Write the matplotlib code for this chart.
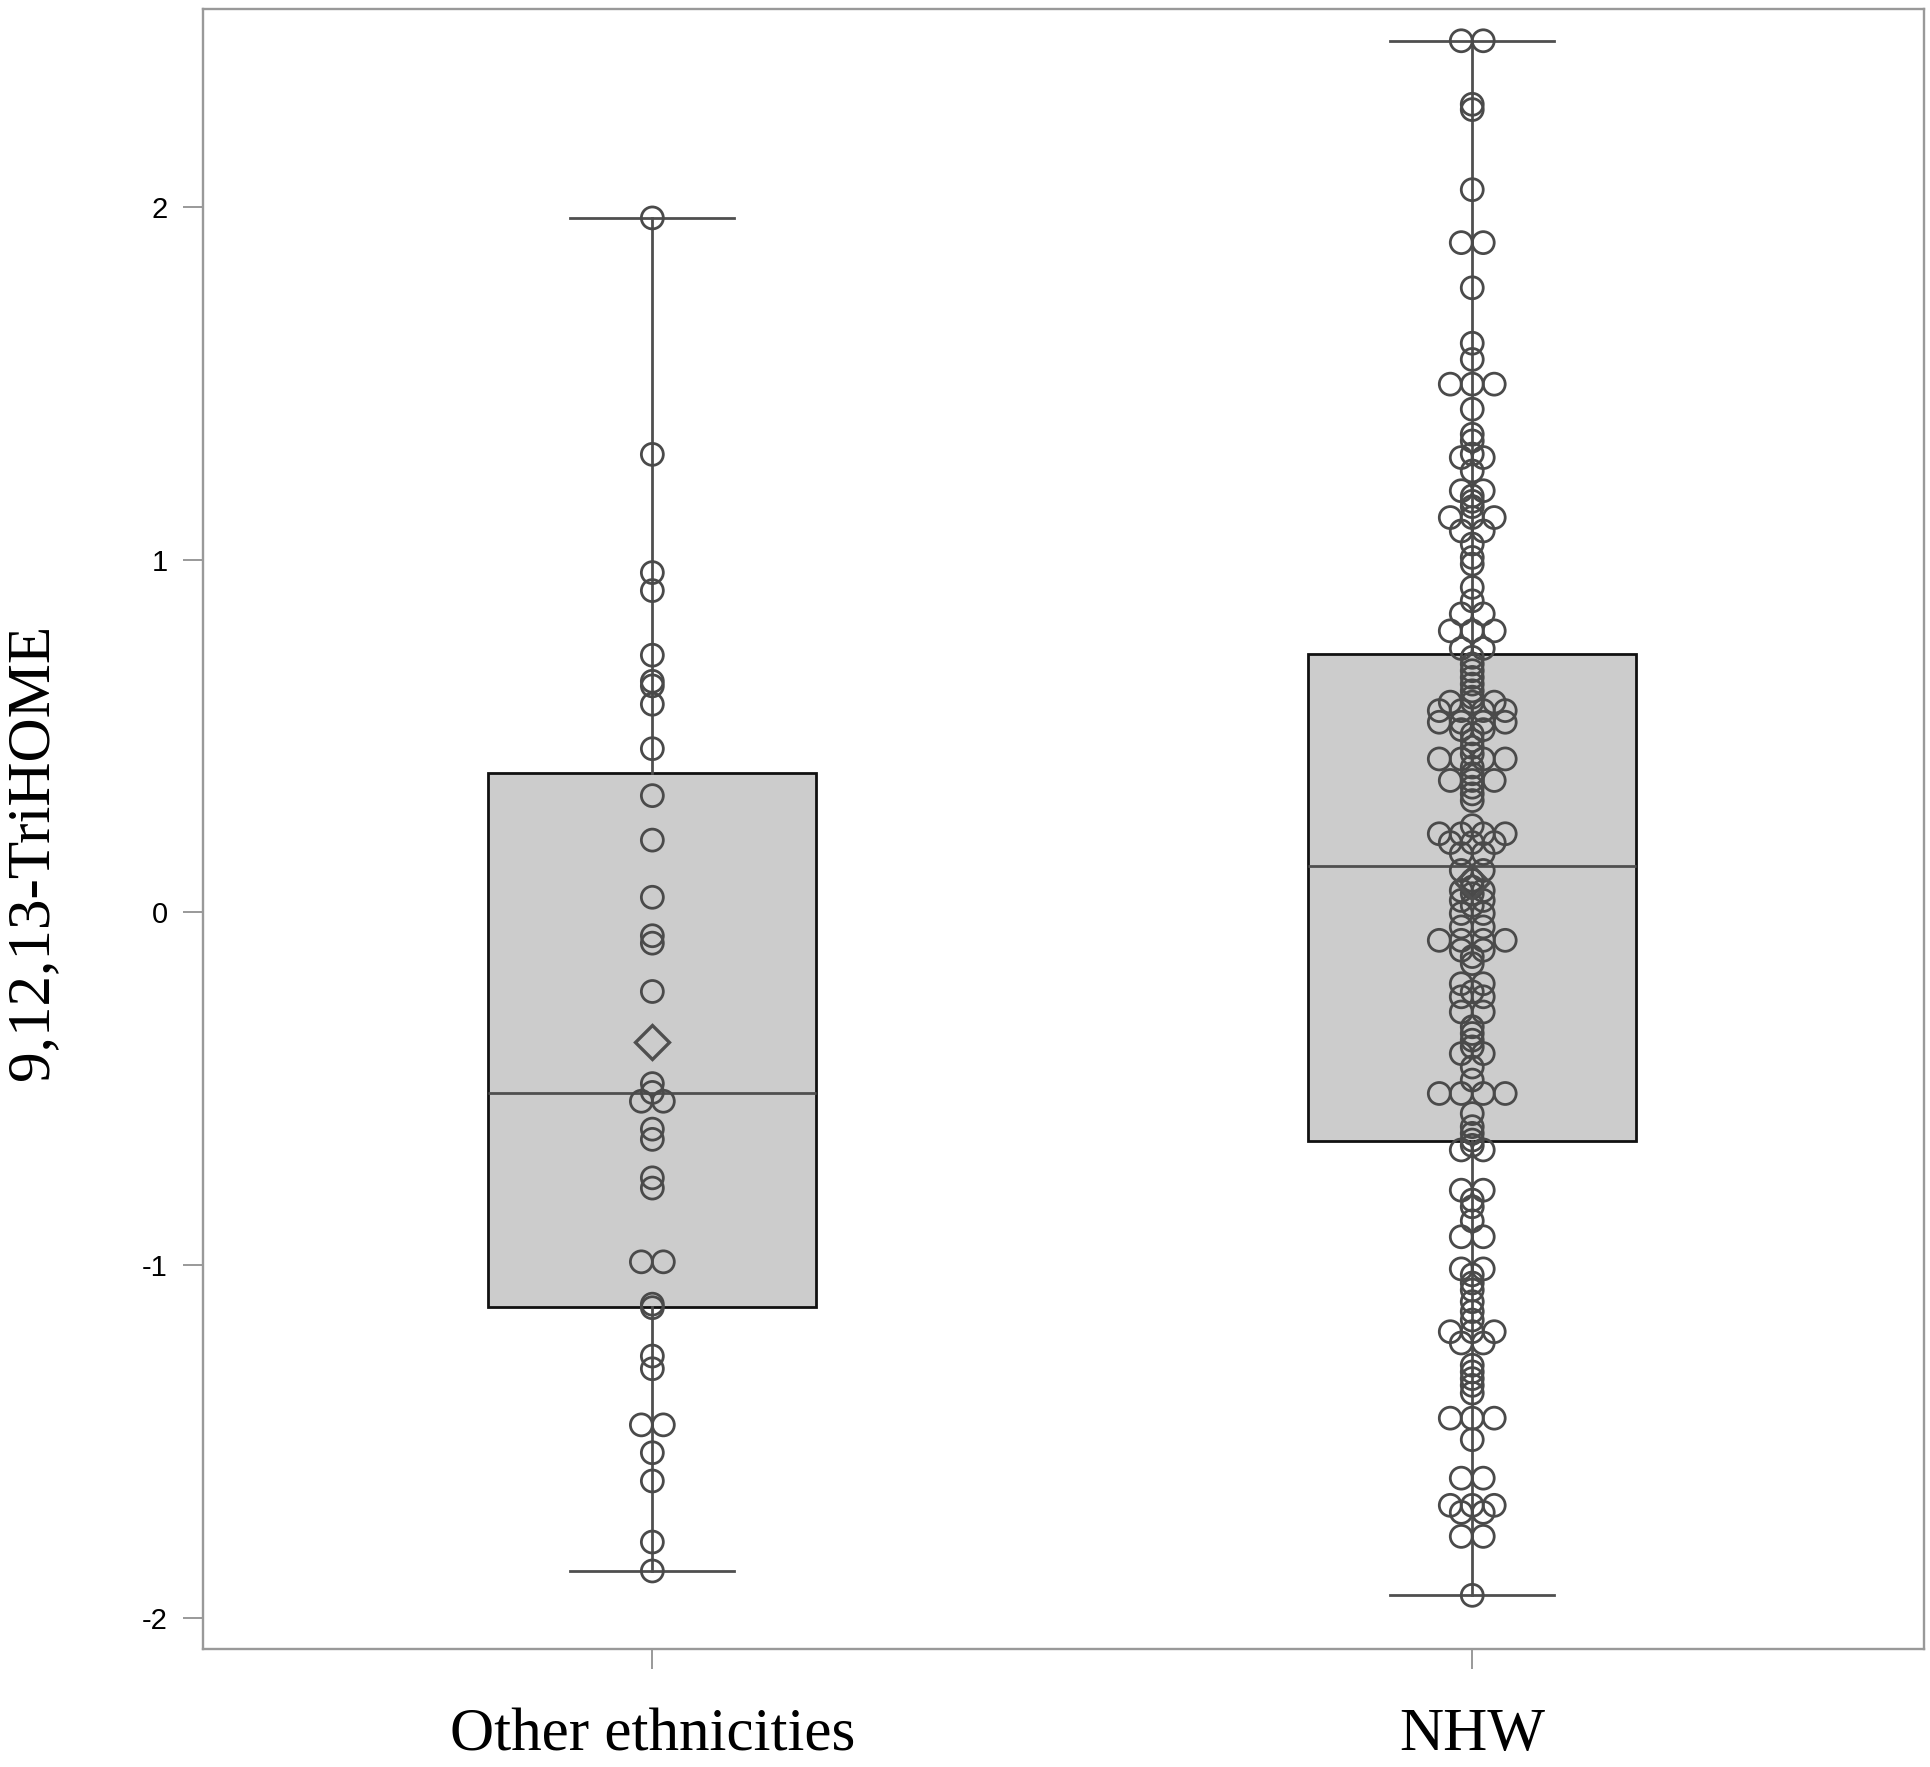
import numpy as np
import matplotlib
matplotlib.use("Agg")
import matplotlib.pyplot as plt

plt.rcParams['axes.unicode_minus'] = False

# groups and box statistics
categories = ['Other ethnicities', 'NHW']
medians = [-0.512, 0.132]
q1s = [-1.118, -0.648]
q3s = [0.394, 0.732]
whis_lo = [-1.866, -1.935]
whis_hi = [1.968, 2.47]

# individual observations (repeats = side-by-side circles)
other_vals = [1.968, 1.298, 0.963, 0.912, 0.729, 0.655, 0.642, 0.590, 0.464, 0.331,
              0.205, 0.043, -0.066, -0.087, -0.224, -0.485, -0.51, -0.535, -0.535,
              -0.614, -0.643, -0.752, -0.781, -0.99, -0.99, -1.11, -1.12, -1.257,
              -1.293, -1.452, -1.452, -1.531, -1.611, -1.784, -1.866]

nhw_vals = [2.47, 2.47, 2.29, 2.275, 2.048, 1.898, 1.898, 1.77, 1.613, 1.567,
            1.497, 1.497, 1.497, 1.426, 1.355, 1.336, 1.299, 1.289, 1.289, 1.251,
            1.195, 1.195, 1.18, 1.165, 1.15, 1.119, 1.119, 1.119, 1.081, 1.081,
            1.044, 1.006, 0.987, 0.921, 0.883, 0.846, 0.846, 0.798, 0.798, 0.798,
            0.748, 0.748, 0.723, 0.704, 0.685, 0.666, 0.647, 0.628, 0.61,
            0.596, 0.596, 0.596, 0.572, 0.572, 0.572, 0.572,
            0.539, 0.539, 0.539, 0.539, 0.518, 0.518,
            0.506, 0.487, 0.468, 0.449, 0.435, 0.435, 0.435, 0.435,
            0.412, 0.393, 0.374, 0.374, 0.374, 0.355, 0.336, 0.317,
            0.246, 0.223, 0.223, 0.223, 0.223, 0.198, 0.198, 0.198,
            0.167, 0.167, 0.119, 0.119, 0.091, 0.072, 0.062, 0.062, 0.053,
            0.034, 0.034, 0.02, -0.003, -0.003, -0.041, -0.041,
            -0.079, -0.079, -0.079, -0.079, -0.107, -0.107, -0.125, -0.145,
            -0.202, -0.202, -0.225, -0.239, -0.239, -0.282, -0.282,
            -0.324, -0.343, -0.362, -0.381, -0.4, -0.4, -0.438, -0.475,
            -0.513, -0.513, -0.513, -0.513, -0.57, -0.607, -0.626, -0.645,
            -0.66, -0.673, -0.673, -0.787, -0.787, -0.815, -0.834, -0.874,
            -0.919, -0.919, -1.01, -1.01, -1.027, -1.05, -1.07, -1.103,
            -1.131, -1.155, -1.188, -1.188, -1.188, -1.22, -1.22,
            -1.283, -1.302, -1.321, -1.34, -1.362, -1.433, -1.433, -1.433,
            -1.494, -1.603, -1.603, -1.68, -1.68, -1.68, -1.70, -1.70,
            -1.768, -1.768, -1.935]

y_ticks = [-2, -1, 0, 1, 2]
y_ticklabels = ['-2', '-1', '0', '1', '2']


def spread(vals, step):
    # equal values are laid out side by side around the category centre
    vals = np.asarray(vals)
    offs = np.zeros(len(vals))
    for v in np.unique(vals):
        idx = np.where(vals == v)[0]
        n = len(idx)
        offs[idx] = (np.arange(n) - (n - 1) / 2) * step
    return offs


groups = [other_vals, nhw_vals]
positions = [1, 2]

fig = plt.figure(figsize=(19.3, 17.67), dpi=100)
ax = fig.add_axes([0.1052, 0.0668, 0.8917, 0.9283])

stats = []
for i in range(2):
    stats.append(dict(med=medians[i], q1=q1s[i], q3=q3s[i],
                      whislo=whis_lo[i], whishi=whis_hi[i],
                      mean=float(np.mean(groups[i])), fliers=[],
                      label=categories[i]))

ax.bxp(stats, positions=positions, widths=0.4, capwidths=0.2,
       showmeans=True, showfliers=False, patch_artist=True,
       boxprops=dict(facecolor='#cccccc', edgecolor='#111111', linewidth=2.0),
       whiskerprops=dict(color='#4f4f4f', linewidth=2.0),
       capprops=dict(color='#4f4f4f', linewidth=2.0),
       medianprops=dict(color='#4f4f4f', linewidth=2.0),
       meanprops=dict(marker='D', markerfacecolor='none', markeredgecolor='#4f4f4f',
                      markersize=17, markeredgewidth=2.4, zorder=5),
       zorder=1)

for pos, vals in zip(positions, groups):
    x = pos + spread(vals, 0.0268)
    ax.scatter(x, vals, s=250, facecolors='none', edgecolors='#4a4a4a',
               linewidths=2.0, zorder=3)

ax.set_xlim(0.452, 2.551)
ax.set_ylim(-2.087, 2.561)
ax.set_yticks(y_ticks)
ax.set_yticklabels(y_ticklabels, fontfamily='Liberation Sans', fontsize=21)
ax.set_xticks(positions)
ax.set_xticklabels(categories, fontfamily='Liberation Serif', fontsize=44)
ax.tick_params(axis='both', length=14.5, width=1.4, color='#999999')
ax.tick_params(axis='y', pad=11)
ax.tick_params(axis='x', pad=28)
for s in ax.spines.values():
    s.set_color('#999999')
    s.set_linewidth(1.7)

fig.text(32 / 1930, 1 - 852 / 1767, '9,12,13-TriHOME', rotation=90,
         ha='center', va='center', fontfamily='Liberation Serif', fontsize=44)

fig.savefig('out.png', dpi=100)
